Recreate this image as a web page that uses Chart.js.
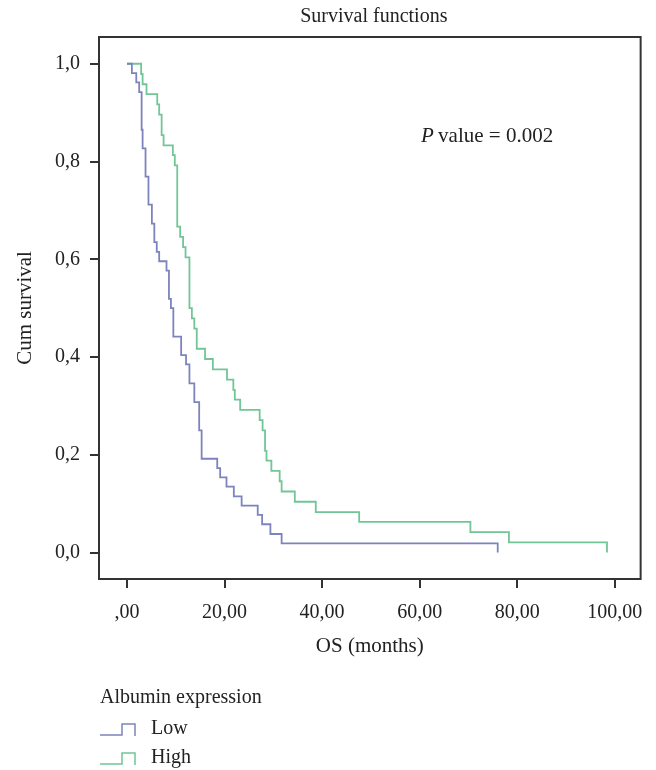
<!DOCTYPE html>
<html>
<head>
<meta charset="utf-8">
<script src="https://cdn.jsdelivr.net/npm/chart.js@4/dist/chart.umd.min.js"></script>
<style>
  html, body { margin: 0; padding: 0; background: #fff; }
  #wrap { width: 656px; height: 770px; }
</style>
</head>
<body>
<div id="wrap"><canvas id="km" width="656" height="770"></canvas></div>
<script>
// Kaplan-Meier steps (time in months, survival after the drop)
const LOW_TIME = [0, 1.0, 1.9, 2.5, 3.0, 3.2, 3.8, 4.4, 5.1, 5.6, 6.1, 6.6, 8.1, 8.6, 9.0, 9.5, 11.1, 12.1, 12.8, 13.8, 14.8, 15.3, 18.5, 19.1, 20.4, 21.9, 23.5, 26.8, 27.7, 29.4, 31.7, 76.0];
const LOW_SURV = [1.0, 0.981, 0.962, 0.942, 0.865, 0.827, 0.769, 0.712, 0.673, 0.635, 0.615, 0.596, 0.577, 0.519, 0.500, 0.442, 0.404, 0.385, 0.346, 0.308, 0.250, 0.192, 0.173, 0.154, 0.135, 0.115, 0.096, 0.077, 0.058, 0.038, 0.019, 0.0];

const HIGH_TIME = [0, 2.9, 3.2, 4.0, 6.2, 6.6, 7.1, 7.5, 9.4, 9.8, 10.3, 10.9, 11.5, 12.0, 12.8, 13.3, 13.8, 14.3, 16.0, 17.6, 20.5, 21.8, 22.1, 23.2, 27.2, 27.8, 28.3, 28.6, 29.6, 31.3, 31.7, 34.4, 38.7, 47.6, 70.4, 78.3, 98.4];
const HIGH_SURV = [1.0, 0.979, 0.958, 0.938, 0.917, 0.896, 0.854, 0.833, 0.813, 0.792, 0.667, 0.646, 0.625, 0.604, 0.500, 0.479, 0.458, 0.417, 0.396, 0.375, 0.354, 0.333, 0.313, 0.292, 0.271, 0.250, 0.208, 0.188, 0.167, 0.146, 0.125, 0.104, 0.083, 0.063, 0.042, 0.021, 0.0];

const X_TICKS = [0, 20, 40, 60, 80, 100];
const X_TICK_LABELS = [',00', '20,00', '40,00', '60,00', '80,00', '100,00'];
const Y_TICKS = [0, 0.2, 0.4, 0.6, 0.8, 1.0];
const Y_TICK_LABELS = ['0,0', '0,2', '0,4', '0,6', '0,8', '1,0'];

const SERIES_NAMES = ['Low', 'High'];
const COLORS = ['#7d84bd', '#72c597'];

const FONT = 'Liberation Serif, Times New Roman, serif';
const INK = '#222';

const toPoints = (t, s) => t.map((x, i) => ({ x, y: s[i] }));

// frame, title, p value and the step-shaped legend
const decor = {
  id: 'decor',
  afterDraw(chart) {
    const { ctx, chartArea: a } = chart;
    ctx.save();
    ctx.strokeStyle = '#333';
    ctx.lineWidth = 2;
    ctx.strokeRect(a.left, a.top, a.right - a.left, a.bottom - a.top);

    ctx.fillStyle = INK;
    ctx.font = `20px ${FONT}`;
    ctx.textAlign = 'center';
    ctx.textBaseline = 'middle';
    ctx.fillText('Survival functions', (a.left + a.right) / 2 + 4, 17);

    // P value
    ctx.textAlign = 'left';
    ctx.font = `italic 21px ${FONT}`;
    ctx.fillText('P', 421, 136);
    const pw = ctx.measureText('P').width;
    ctx.font = `21px ${FONT}`;
    ctx.fillText(' value = 0.002', 421 + pw - 1, 136);

    // legend
    ctx.font = `20px ${FONT}`;
    ctx.fillText('Albumin expression', 100, 698);
    SERIES_NAMES.forEach((name, i) => {
      const y = 729 + i * 29;
      ctx.strokeStyle = COLORS[i];
      ctx.lineWidth = 1.5;
      ctx.beginPath();
      ctx.moveTo(100, y + 6);
      ctx.lineTo(122, y + 6);
      ctx.lineTo(122, y - 5);
      ctx.lineTo(135, y - 5);
      ctx.lineTo(135, y + 7);
      ctx.stroke();
      ctx.fillText(name, 151, y);
    });
    ctx.restore();
  }
};

new Chart(document.getElementById('km'), {
  type: 'line',
  data: {
    datasets: [
      { label: SERIES_NAMES[0], data: toPoints(LOW_TIME, LOW_SURV), borderColor: COLORS[0] },
      { label: SERIES_NAMES[1], data: toPoints(HIGH_TIME, HIGH_SURV), borderColor: COLORS[1] },
    ].map(d => ({ ...d, stepped: 'before', borderWidth: 1.8, pointRadius: 0, fill: false, tension: 0 })),
  },
  options: {
    responsive: false,
    animation: false,
    layout: { padding: { top: 37, right: 15, left: 0, bottom: 0 } },
    plugins: { legend: { display: false }, title: { display: false }, tooltip: { enabled: false } },
    scales: {
      x: {
        type: 'linear',
        min: -5.74,
        max: 105.3,
        afterBuildTicks: s => { s.ticks = X_TICKS.map(value => ({ value })); },
        afterFit: s => { s.height = 191; },
        ticks: {
          callback: (v, i) => X_TICK_LABELS[i],
          font: { family: FONT, size: 20 },
          color: INK,
          padding: 13,
          maxRotation: 0,
          autoSkip: false,
        },
        grid: { drawOnChartArea: false, drawTicks: true, tickLength: 9, color: '#333', lineWidth: 2 },
        border: { display: false },
        title: { display: true, text: 'OS (months)', font: { family: FONT, size: 21 }, color: INK, padding: { top: 0, bottom: 111 } },
      },
      y: {
        type: 'linear',
        min: -0.054,
        max: 1.0547,
        afterBuildTicks: s => { s.ticks = Y_TICKS.map(value => ({ value })); },
        afterFit: s => { s.width = 99; },
        ticks: {
          callback: (v, i) => Y_TICK_LABELS[i],
          font: { family: FONT, size: 20 },
          color: INK,
          padding: 10,
          autoSkip: false,
        },
        grid: { drawOnChartArea: false, drawTicks: true, tickLength: 9, color: '#333', lineWidth: 2 },
        border: { display: false },
        title: { display: true, text: 'Cum survival', font: { family: FONT, size: 21 }, color: INK, padding: { top: 13, bottom: 0 } },
      },
    },
  },
  plugins: [decor],
});
</script>
</body>
</html>
